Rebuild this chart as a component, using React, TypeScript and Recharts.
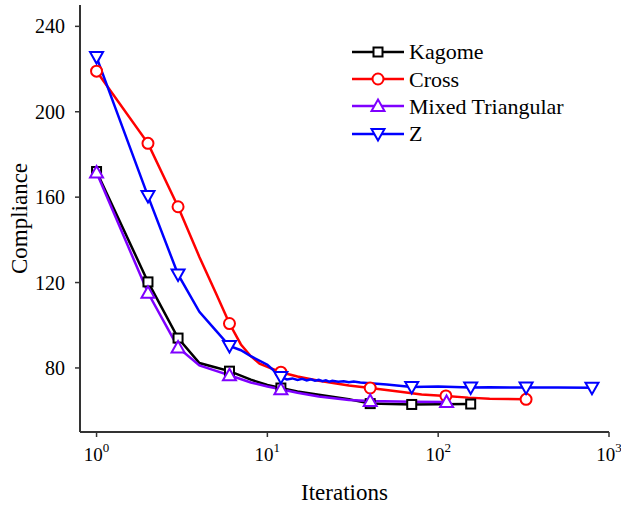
import { Legend, Line, LineChart, XAxis, YAxis } from "recharts";

// iterations (x) and compliance (y); *Marks = iterations that carry a symbol
const kagomeIter = [1, 2, 3, 4, 5, 6, 8, 10, 12, 15, 20, 30, 40, 70, 100, 155];
const kagomeVal = [172, 120.3, 94, 82.3, 80.2, 78.5, 74.5, 72, 70.6, 69, 67.4, 65.3, 63.3, 62.9, 63, 63.1];
const kagomeMarks = [1, 2, 3, 6, 12, 40, 70, 155];

const crossIter = [1, 2, 3, 4, 5, 6, 7, 8, 9, 10, 12, 15, 20, 30, 40, 60, 80, 111, 150, 200, 327];
const crossVal = [219, 185.2, 155.5, 132, 115, 100.8, 91, 85.5, 82, 80.5, 78, 76, 74, 71.8, 70.6, 68.8, 67.6, 66.9, 66.1, 65.6, 65.3];
const crossMarks = [1, 2, 3, 6, 12, 40, 111, 327];

const mixedIter = [1, 2, 3, 4, 5, 6, 8, 10, 12, 15, 20, 30, 40, 70, 112];
const mixedVal = [171.5, 115.2, 89.6, 81.2, 78.6, 76.6, 73.2, 71.3, 70, 68.4, 66.6, 65, 64.5, 64.2, 64.1];
const mixedMarks = [1, 2, 3, 6, 12, 40, 112];

const zIter = [1, 2, 3, 4, 5, 6, 7, 8, 10, 12, 13, 14, 15, 16, 17, 18, 19, 20, 21, 22, 23, 24, 26, 28, 30, 32, 35, 40, 50, 70, 100, 155, 200, 327, 500, 795];
const zVal = [225.6, 160.5, 123.8, 106.3, 97.5, 90.3, 88.3, 85.5, 81.5, 75.8, 74.6, 75.1, 74.4, 74.9, 74.2, 74.7, 74, 74.4, 73.8, 74.2, 73.6, 74, 73.5, 73.8, 73.3, 73.6, 73.2, 72.8, 72.2, 71.1, 71.3, 70.9, 71, 70.8, 70.9, 70.7];
const zMarks = [1, 2, 3, 6, 12, 70, 155, 327, 795];

const xMajor = [1, 10, 100, 1000];
const xMinor = [0.9, 2, 3, 4, 5, 6, 7, 8, 9, 20, 30, 40, 50, 60, 70, 80, 90, 200, 300, 400, 500, 600, 700, 800, 900];
const yMajor = [80, 120, 160, 200, 240];
const yMinor = [60, 70, 90, 100, 110, 130, 140, 150, 170, 180, 190, 210, 220, 230];

const build = (xs: number[], ys: number[], marks: number[]) =>
  xs.map((x, i) => ({ x, y: ys[i], m: marks.includes(x) }));

const series = [
  { name: "Kagome", color: "#000000", shape: "square", data: build(kagomeIter, kagomeVal, kagomeMarks) },
  { name: "Cross", color: "#ff0000", shape: "circle", data: build(crossIter, crossVal, crossMarks) },
  { name: "Mixed Triangular", color: "#7f00ff", shape: "up", data: build(mixedIter, mixedVal, mixedMarks) },
  { name: "Z", color: "#0000ff", shape: "down", data: build(zIter, zVal, zMarks) },
];

const FONT = '"Liberation Serif", "DejaVu Serif", serif';
const AXIS = "#333333";

function Marker({ shape, cx, cy, color }: { shape: string; cx: number; cy: number; color: string }) {
  const common = { fill: "#ffffff", stroke: color, strokeWidth: 2 };
  if (shape === "square") return <rect x={cx - 4.5} y={cy - 4.5} width={9} height={9} {...common} />;
  if (shape === "circle") return <circle cx={cx} cy={cy} r={5.5} {...common} />;
  if (shape === "up")
    return <polygon points={`${cx},${cy - 6.5} ${cx + 6.5},${cy + 5} ${cx - 6.5},${cy + 5}`} {...common} />;
  return <polygon points={`${cx - 6.5},${cy - 5} ${cx + 6.5},${cy - 5} ${cx},${cy + 6.5}`} {...common} />;
}

const PowTick = (props: any) => {
  const { x, y, payload } = props;
  const e = Math.round(Math.log10(payload.value));
  return (
    <text x={x} y={y + 22} textAnchor="middle" fill="#000" style={{ fontFamily: FONT }}>
      <tspan fontSize={19}>10</tspan>
      <tspan fontSize={13} dy={-9}>
        {e}
      </tspan>
    </text>
  );
};

const renderLegend = () => (
  <div style={{ fontFamily: FONT, fontSize: 22, color: "#000" }}>
    {series.map((s) => (
      <div key={s.name} style={{ display: "flex", alignItems: "center", height: 27.4 }}>
        <svg width={57} height={20} style={{ display: "block" }}>
          <line x1={0} y1={10} x2={52} y2={10} stroke={s.color} strokeWidth={2.5} />
          <Marker shape={s.shape} cx={26} cy={10} color={s.color} />
        </svg>
        <span style={{ lineHeight: "27px" }}>{s.name}</span>
      </div>
    ))}
  </div>
);

export default function App() {
  return (
    <div style={{ position: "absolute", left: 0, top: 0, background: "#fff", fontFamily: FONT }}>
      <LineChart width={621} height={508} margin={{ top: 5, right: 12, bottom: 0, left: 0 }} style={{ fontFamily: FONT }}>
        <XAxis xAxisId="bm" dataKey="x" type="number" scale="log" domain={[0.8, 1000]} allowDataOverflow
          ticks={xMinor} tick={false} tickSize={3} axisLine={false} tickLine={{ stroke: AXIS, strokeWidth: 1.5 }} height={0} />
        <XAxis xAxisId="b" dataKey="x" type="number" scale="log" domain={[0.8, 1000]} allowDataOverflow
          ticks={xMajor} tick={<PowTick />} tickSize={5} height={76} interval={0}
          axisLine={{ stroke: AXIS, strokeWidth: 2 }} tickLine={{ stroke: AXIS, strokeWidth: 1.5 }}
          label={{
            content: (p: any) => {
              const vb = p.viewBox;
              return (
                <text x={vb.x + vb.width / 2} y={500} textAnchor="middle" fontSize={23} style={{ fontFamily: FONT }} fill="#000">
                  Iterations
                </text>
              );
            },
          }} />
        <XAxis xAxisId="tm" dataKey="x" type="number" scale="log" domain={[0.8, 1000]} allowDataOverflow orientation="top" mirror
          ticks={xMinor} tick={false} tickSize={3} axisLine={false} tickLine={{ stroke: AXIS, strokeWidth: 1.5 }} height={0} />
        <XAxis xAxisId="t" dataKey="x" type="number" scale="log" domain={[0.8, 1000]} allowDataOverflow orientation="top" mirror
          ticks={xMajor} tick={false} tickSize={5} height={0}
          axisLine={{ stroke: AXIS, strokeWidth: 2 }} tickLine={{ stroke: AXIS, strokeWidth: 1.5 }} />

        <YAxis yAxisId="lm" type="number" domain={[50, 250]} allowDataOverflow ticks={yMinor} tick={false}
          tickSize={3} width={0} axisLine={false} tickLine={{ stroke: AXIS, strokeWidth: 1.5 }} />
        <YAxis yAxisId="l" type="number" domain={[50, 250]} allowDataOverflow ticks={yMajor} interval={0}
          tickSize={5} tickMargin={10} width={80}
          tick={{ fontSize: 20, fill: "#000", style: { fontFamily: FONT } }}
          axisLine={{ stroke: AXIS, strokeWidth: 2 }} tickLine={{ stroke: AXIS, strokeWidth: 1.5 }}
          label={{
            content: (p: any) => {
              const vb = p.viewBox;
              const cy = vb.y + vb.height / 2;
              return (
                <text x={19} y={cy} transform={`rotate(-90 19 ${cy})`} textAnchor="middle" dominantBaseline="central"
                  fontSize={23} style={{ fontFamily: FONT }} fill="#000">
                  Compliance
                </text>
              );
            },
          }} />
        <YAxis yAxisId="rm" type="number" domain={[50, 250]} allowDataOverflow orientation="right" mirror
          ticks={yMinor} tick={false} tickSize={3} width={0} axisLine={false} tickLine={{ stroke: AXIS, strokeWidth: 1.5 }} />
        <YAxis yAxisId="r" type="number" domain={[50, 250]} allowDataOverflow orientation="right" mirror
          ticks={yMajor} tick={false} tickSize={5} width={0}
          axisLine={{ stroke: AXIS, strokeWidth: 2 }} tickLine={{ stroke: AXIS, strokeWidth: 1.5 }} />

        {series.map((s) => (
          <Line
            key={s.name}
            xAxisId="b"
            yAxisId="l"
            data={s.data}
            dataKey="y"
            name={s.name}
            stroke={s.color}
            strokeWidth={2.5}
            type="linear"
            isAnimationActive={false}
            activeDot={false}
            dot={(p: any) =>
              p.payload.m ? (
                <Marker key={`${s.name}-${p.index}`} shape={s.shape} cx={p.cx} cy={p.cy} color={s.color} />
              ) : (
                <g key={`${s.name}-${p.index}`} />
              )
            }
          />
        ))}

        <Legend
          content={renderLegend}
          layout="vertical"
          verticalAlign="middle"
          align="center"
          wrapperStyle={{ position: "absolute", left: 352, top: 38, width: 240 }}
        />
      </LineChart>
    </div>
  );
}
